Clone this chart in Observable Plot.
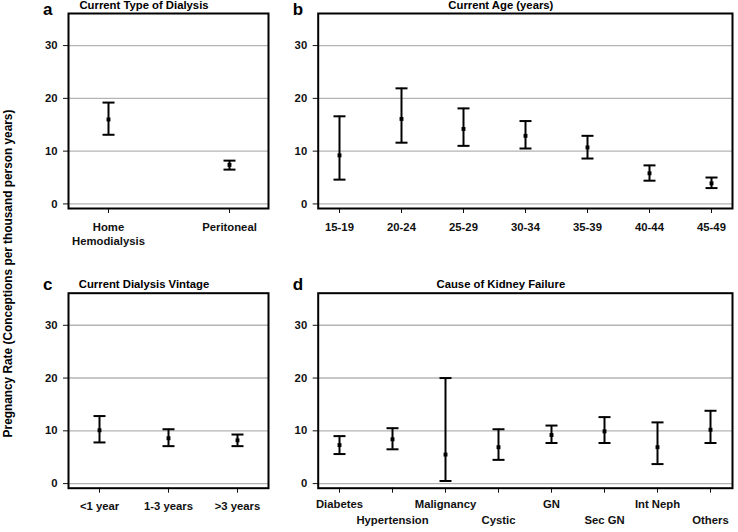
<!DOCTYPE html>
<html>
<head>
<meta charset="utf-8">
<script src="https://cdn.jsdelivr.net/npm/d3@7"></script>
<script src="https://cdn.jsdelivr.net/npm/@observablehq/plot@0.6"></script>
<style>
  html, body { margin: 0; padding: 0; background: #fff; }
  #wrap { position: relative; width: 738px; height: 532px; overflow: hidden; background: #fff; }
</style>
</head>
<body>
<div id="wrap"></div>
<script>
// ---------- data ----------
const yLabel = "Pregnancy Rate (Conceptions per thousand person years)";
const letters = ["a", "b", "c", "d"];
const titles = ["Current Type of Dialysis", "Current Age (years)", "Current Dialysis Vintage", "Cause of Kidney Failure"];
const yTicks = [0, 10, 20, 30];

const catsA = ["Home Hemodialysis", "Peritoneal"];
const rateA = [16.0, 7.4];
const loA = [13.1, 6.5];
const hiA = [19.2, 8.2];

const catsB = ["15-19", "20-24", "25-29", "30-34", "35-39", "40-44", "45-49"];
const rateB = [9.2, 16.1, 14.2, 12.9, 10.7, 5.8, 3.9];
const loB = [4.6, 11.6, 11.0, 10.5, 8.6, 4.4, 3.0];
const hiB = [16.6, 21.9, 18.1, 15.7, 12.9, 7.3, 5.0];

const catsC = ["<1 year", "1-3 years", ">3 years"];
const rateC = [10.1, 8.6, 8.2];
const loC = [7.8, 7.1, 7.1];
const hiC = [12.8, 10.3, 9.3];

const catsD = ["Diabetes", "Hypertension", "Malignancy", "Cystic", "GN", "Sec GN", "Int Neph", "Others"];
const rateD = [7.3, 8.4, 5.5, 6.9, 9.2, 9.9, 6.9, 10.2];
const loD = [5.6, 6.5, 0.5, 4.5, 7.7, 7.7, 3.7, 7.7];
const hiD = [9.0, 10.5, 20.0, 10.3, 11.0, 12.6, 11.6, 13.8];

// ---------- helpers ----------
const FONT = "'Liberation Sans', Arial, Helvetica, sans-serif";
const wrap = document.getElementById("wrap");

// horizontal cap symbol for error bars
const capSymbol = {draw(ctx) { ctx.moveTo(-6, 0); ctx.lineTo(6, 0); }};

function rows(cats, rate, lo, hi) {
  return cats.map((c, i) => ({cat: c, rate: rate[i], lo: lo[i], hi: hi[i]}));
}

function panel({left, top, width, height, mt, mb, ml, mr, cats, data, pad, letter, title, letterDy, twoRow, fmt}) {
  const axisMarks = twoRow
    ? [
        Plot.axisX({tickSize: 5, tickFormat: () => ""}),
        Plot.axisX(cats.filter((d, i) => i % 2 === 0), {tickSize: 0, tickPadding: 12}),
        Plot.axisX(cats.filter((d, i) => i % 2 === 1), {tickSize: 0, tickPadding: 28})
      ]
    : [Plot.axisX({tickSize: 5, tickPadding: 7, tickFormat: fmt || (d => d), lineHeight: 1.25})];
  const p = Plot.plot({
    width, height,
    marginTop: mt, marginBottom: mb, marginLeft: ml, marginRight: mr,
    style: {fontFamily: FONT, fontSize: "11.3px", fontWeight: "bold", color: "#111", background: "transparent", overflow: "visible"},
    x: {type: "point", domain: cats, padding: pad, label: null},
    y: {domain: [-0.87, 36.08], label: null},
    marks: [
      Plot.gridY(yTicks, {stroke: "#b4b4b4", strokeOpacity: 1, strokeWidth: 1.4}),
      Plot.ruleX(data, {x: "cat", y1: "lo", y2: "hi", stroke: "#000", strokeWidth: 2}),
      Plot.dot(data, {x: "cat", y: "lo", symbol: capSymbol, fill: "none", stroke: "#000", strokeWidth: 2}),
      Plot.dot(data, {x: "cat", y: "hi", symbol: capSymbol, fill: "none", stroke: "#000", strokeWidth: 2}),
      Plot.dot(data, {x: "cat", y: "rate", symbol: "square", r: 2.2, fill: "#000", stroke: null}),
      Plot.axisY(yTicks, {tickSize: 5, tickPadding: 6, label: null}),
      ...axisMarks,
      Plot.frame({stroke: "#000", strokeWidth: 2}),
      Plot.text([title], {frameAnchor: "top", dx: -24.5, dy: -5, lineAnchor: "bottom", fontSize: 11.3, fontWeight: "bold", fill: "#000"}),
      Plot.text([letter], {frameAnchor: "top-left", textAnchor: "start", lineAnchor: "bottom", dx: -25.5, dy: letterDy, fontSize: 17, fontWeight: "bold", fill: "#000"})
    ]
  });
  p.style.position = "absolute";
  p.style.left = left + "px";
  p.style.top = top + "px";
  wrap.appendChild(p);
}

panel({left: 0, top: 0, width: 280, height: 270, mt: 13, mb: 62, ml: 68, mr: 12,
  cats: catsA, data: rows(catsA, rateA, loA, hiA), pad: 0.326, letter: letters[0], title: titles[0], letterDy: 1,
  fmt: d => d === "Home Hemodialysis" ? "Home\nHemodialysis" : d});

panel({left: 280, top: 0, width: 458, height: 270, mt: 13, mb: 62, ml: 37.7, mr: 6,
  cats: catsB, data: rows(catsB, rateB, loB, hiB), pad: 0.32, letter: letters[1], title: titles[1], letterDy: 1});

panel({left: 0, top: 270, width: 280, height: 262, mt: 22.7, mb: 44.3, ml: 68, mr: 12,
  cats: catsC, data: rows(catsC, rateC, loC, hiC), pad: 0.43, letter: letters[2], title: titles[2], letterDy: -3.7});

panel({left: 280, top: 270, width: 458, height: 262, mt: 22.7, mb: 44.3, ml: 37.7, mr: 6,
  cats: catsD, data: rows(catsD, rateD, loD, hiD), pad: 0.365, letter: letters[3], title: titles[3], letterDy: -3.7, twoRow: true});

// shared y-axis label
const lab = Plot.plot({
  width: 20, height: 532, margin: 0,
  style: {fontFamily: FONT, background: "transparent", overflow: "visible"},
  marks: [
    Plot.text([yLabel], {frameAnchor: "left", dx: 11, dy: 7, rotate: -90, textAnchor: "middle", lineAnchor: "bottom", fontSize: 11.85, fontWeight: "bold", fill: "#000"})
  ]
});
lab.style.position = "absolute";
lab.style.left = "0px";
lab.style.top = "0px";
wrap.appendChild(lab);
</script>
</body>
</html>
